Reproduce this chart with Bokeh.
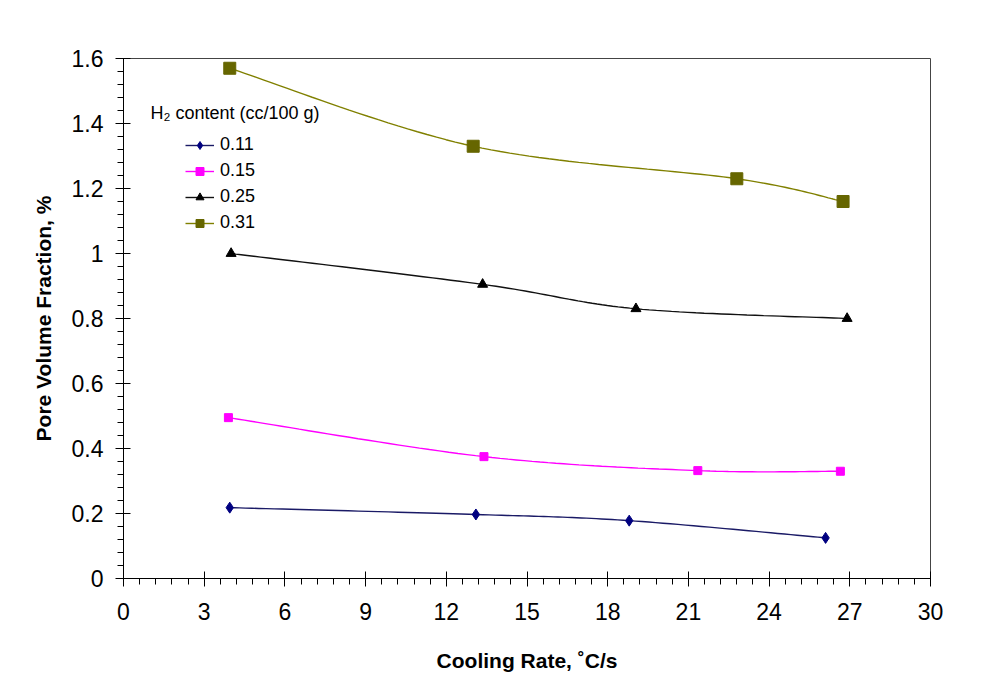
import numpy as np
from bokeh.plotting import figure
from bokeh.models import (Range1d, FixedTicker, CustomJSTickFormatter, Legend,
                          LegendItem, Label)
from bokeh.embed import file_html
from bokeh.resources import INLINE

# Hydrogen content series (cc/100 g): cooling rate (°C/s) vs pore volume fraction (%)
series_labels = ["0.11", "0.15", "0.25", "0.31"]
rate_011 = [3.95, 13.1, 18.8, 26.1]
pore_011 = [0.218, 0.197, 0.178, 0.125]
rate_015 = [3.9, 13.4, 21.35, 26.65]
pore_015 = [0.495, 0.375, 0.332, 0.330]
rate_025 = [4.0, 13.35, 19.05, 26.9]
pore_025 = [1.0, 0.905, 0.83, 0.80]
rate_031 = [3.95, 13.0, 22.8, 26.75]
pore_031 = [1.57, 1.33, 1.23, 1.16]

x_major = [0, 3, 6, 9, 12, 15, 18, 21, 24, 27, 30]
x_minor = [round(i * 0.6, 2) for i in range(51)]
y_major = [0, 0.2, 0.4, 0.6, 0.8, 1.0, 1.2, 1.4, 1.6]
y_minor = [round(i * 0.04, 2) for i in range(41)]

FONT = "Liberation Sans"


def smooth(xs, ys, sx=26.9, sy=325.0, n=30):
    """Cardinal Bezier smoothing through the points (spreadsheet-style smoothed line)."""
    P = np.column_stack([np.asarray(xs) * sx, np.asarray(ys) * sy])
    out = [P[0]]
    m = len(P)
    for i in range(m - 1):
        p0 = P[max(i - 1, 0)]
        p1 = P[i]
        p2 = P[i + 1]
        p3 = P[min(i + 2, m - 1)]
        c1 = p1 + (p2 - p0) / 6.0
        c2 = p2 - (p3 - p1) / 6.0
        t = np.linspace(0, 1, n)[1:, None]
        seg = ((1 - t) ** 3) * p1 + 3 * ((1 - t) ** 2) * t * c1 + 3 * (1 - t) * t ** 2 * c2 + t ** 3 * p2
        out.extend(seg)
    out = np.array(out)
    return out[:, 0] / sx, out[:, 1] / sy


p = figure(frame_width=807, frame_height=520,
           min_border_left=123, min_border_right=71,
           min_border_top=58, min_border_bottom=103,
           x_range=Range1d(0, 30), y_range=Range1d(0, 1.6),
           output_backend="svg", toolbar_location=None,
           background_fill_color="white", border_fill_color="white")

p.grid.visible = False
p.outline_line_color = "#444444"
p.outline_line_width = 1

xa = p.xaxis[0]
xa.ticker = FixedTicker(ticks=x_major, minor_ticks=x_minor)
ya = p.yaxis[0]
ya.ticker = FixedTicker(ticks=y_major, minor_ticks=y_minor)
ya.formatter = CustomJSTickFormatter(code="return tick.toFixed(1).replace(/\\.0$/, '');")

for ax in (xa, ya):
    ax.axis_line_color = "black"
    ax.major_tick_line_color = "black"
    ax.minor_tick_line_color = "black"
    ax.major_tick_in = 7
    ax.major_tick_out = 8
    ax.minor_tick_in = 0
    ax.minor_tick_out = 6
    ax.major_label_text_font = FONT
    ax.major_label_text_font_size = "23px"
    ax.major_label_text_color = "black"
    ax.axis_label_text_font = FONT
    ax.axis_label_text_font_size = "21px"
    ax.axis_label_text_font_style = "bold"
    ax.axis_label_text_color = "black"

xa.axis_label = "Cooling Rate, ˚C/s"
xa.major_label_standoff = 16
xa.axis_label_standoff = 26
ya.axis_label = "Pore Volume Fraction, %"
ya.major_label_standoff = 12
ya.axis_label_standoff = 14

styles = [
    (rate_011, pore_011, "#1a1a66", "#000080", "diamond", 11),
    (rate_015, pore_015, "#ff00ff", "#ff00ff", "square", 8),
    (rate_025, pore_025, "#111111", "black", "triangle", 10),
    (rate_031, pore_031, "#808000", "#666600", "square", 12),
]

items = []
for label, (xs, ys, lc, mc, marker, size) in zip(series_labels, styles):
    cx, cy = smooth(xs, ys)
    lr = p.line(cx, cy, line_color=lc, line_width=1.4)
    sr = p.scatter(xs, ys, marker=marker, size=size, fill_color=mc, line_color=mc)
    items.append(LegendItem(label=label, renderers=[lr, sr]))

legend = Legend(items=items, location=(62, 345), padding=0, margin=0,
                spacing=5, label_height=20, glyph_height=20, glyph_width=29,
                label_standoff=6, background_fill_alpha=0, border_line_alpha=0,
                label_text_font=FONT, label_text_font_size="18px",
                label_text_color="black")
p.add_layout(legend)

p.add_layout(Label(x=27, y=466, x_units="screen", y_units="screen",
                   text="H₂ content (cc/100 g)", text_baseline="middle",
                   text_font=FONT, text_font_size="18px", text_color="black"))

open("out.html", "w").write(file_html(p, INLINE))
